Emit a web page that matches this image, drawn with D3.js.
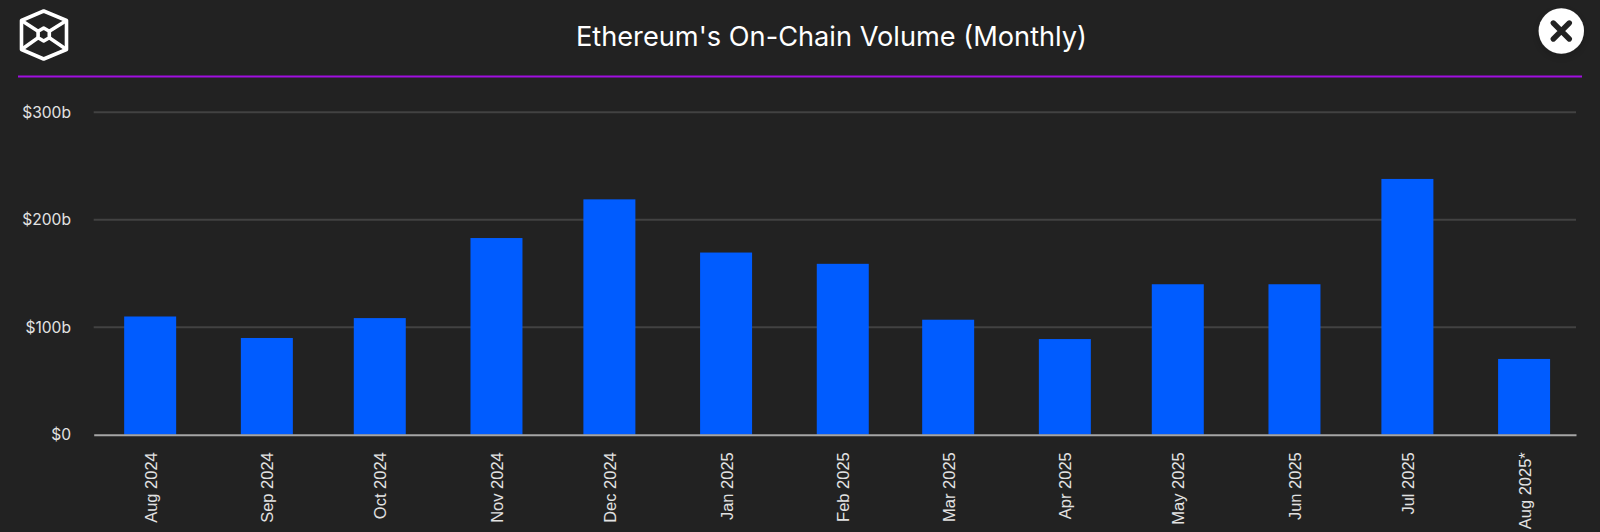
<!DOCTYPE html>
<html>
<head>
<meta charset="utf-8">
<script src="https://cdn.jsdelivr.net/npm/d3@7"></script>
<style>
html, body { margin: 0; padding: 0; background: #222222; overflow: hidden; }
svg { display: block; }
</style>
</head>
<body>
<svg id="chart" width="1600" height="532"></svg>
<script>
var months = ["2024-08-01", "2024-09-01", "2024-10-01", "2024-11-01", "2024-12-01", "2025-01-01", "2025-02-01", "2025-03-01", "2025-04-01", "2025-05-01", "2025-06-01", "2025-07-01", "2025-08-01"];
var volumes = [110, 90, 108.5, 183, 219, 169.5, 159, 107, 89, 140, 140, 238, 70.5];
var yTicks = [0, 100, 200, 300];
var title = "Ethereum's On-Chain Volume (Monthly)";

var svg = d3.select("#chart");
var dates = months.map(d => new Date(d + "T00:00:00Z"));

// the months are placed on a real time axis, so February comes out narrower
var x = d3.scaleUtc()
    .domain([new Date("2024-07-17T00:00:00Z"), new Date("2025-08-14T19:00:00Z")])
    .range([93.7, 1576]);
var y = d3.scaleLinear().domain([0, 300]).range([434.7, 112.3]);
var barWidth = 52;

// header
svg.append("text")
    .attr("x", 831.5).attr("y", 46)
    .attr("text-anchor", "middle")
    .attr("font-family", "Inter")
    .attr("font-size", 27.2)
    .attr("fill", "#ffffff")
    .text(title);

svg.append("line")
    .attr("x1", 18).attr("x2", 1582)
    .attr("y1", 76.5).attr("y2", 76.5)
    .attr("stroke", "#a00fe0")
    .attr("stroke-width", 2);

// logo
var logo = svg.append("g")
    .attr("fill", "none")
    .attr("stroke", "#ffffff")
    .attr("stroke-width", 3.6)
    .attr("stroke-linejoin", "round");
logo.append("path").attr("d", "M43.7 11L66.5 20.5V49.5L43.7 59L21.5 49.5V20.5Z");
logo.append("path").attr("d", "M21.5 20.5L38.1 31.2M66.5 20.5L49.3 31.2M21.5 49.5L38.1 37.8M66.5 49.5L49.3 37.8");
logo.append("path").attr("d", "M43.7 28L49.3 31.2V37.8L43.7 41L38.1 37.8V31.2Z");

// close button
var shadow = svg.append("defs").append("filter")
    .attr("id", "soft").attr("x", "-40%").attr("y", "-40%").attr("width", "180%").attr("height", "180%");
shadow.append("feDropShadow")
    .attr("dx", 0).attr("dy", 3).attr("stdDeviation", 5)
    .attr("flood-color", "#000000").attr("flood-opacity", 0.2);
svg.append("circle")
    .attr("cx", 1561.3).attr("cy", 31)
    .attr("r", 22.7)
    .attr("fill", "#ffffff")
    .attr("filter", "url(#soft)");
svg.append("path")
    .attr("d", "M1553.3 23L1569.3 39M1569.3 23L1553.3 39")
    .attr("stroke", "#222222")
    .attr("stroke-width", 5.4)
    .attr("stroke-linecap", "round");

// grid lines and y labels
var yAxis = d3.axisLeft(y)
    .tickValues(yTicks)
    .tickFormat(d => d === 0 ? "$0" : "$" + d + "b")
    .tickSize(0)
    .tickPadding(22.7);

svg.append("g")
    .attr("transform", "translate(93.7,0)")
    .call(yAxis)
    .call(g => g.select(".domain").remove())
    .call(g => g.selectAll("text")
        .attr("font-family", "Inter")
        .attr("font-size", 15.6)
        .attr("fill", "#e2e2e2"));

svg.append("g")
    .selectAll("line")
    .data(yTicks.filter(d => d > 0))
    .join("line")
    .attr("x1", 93.7).attr("x2", 1576)
    .attr("y1", d => y(d)).attr("y2", d => y(d))
    .attr("stroke", "#424242")
    .attr("stroke-width", 2);

// bars
svg.append("g")
    .selectAll("rect")
    .data(volumes)
    .join("rect")
    .attr("x", (d, i) => x(dates[i]) - barWidth / 2)
    .attr("y", d => y(d))
    .attr("width", barWidth)
    .attr("height", d => y(0) - y(d))
    .attr("fill", "#005cff");

// x axis
var xAxis = d3.axisBottom(x)
    .tickValues(dates)
    .tickFormat((d, i) => d3.utcFormat("%b %Y")(d) + (i === dates.length - 1 ? "*" : ""))
    .tickSize(0);

svg.append("g")
    .attr("transform", "translate(0,434.7)")
    .call(xAxis)
    .call(g => g.select(".domain")
        .attr("stroke", "#a6a6a6")
        .attr("stroke-width", 2))
    .call(g => g.selectAll("text")
        .attr("font-family", "Liberation Sans")
        .attr("font-size", 16.5)
        .attr("fill", "#e2e2e2")
        .attr("text-anchor", "end")
        .attr("transform", "translate(6,17.5) rotate(-90)")
        .attr("dy", 0)
        .attr("y", 0)
        .attr("x", 0));
</script>
</body>
</html>
